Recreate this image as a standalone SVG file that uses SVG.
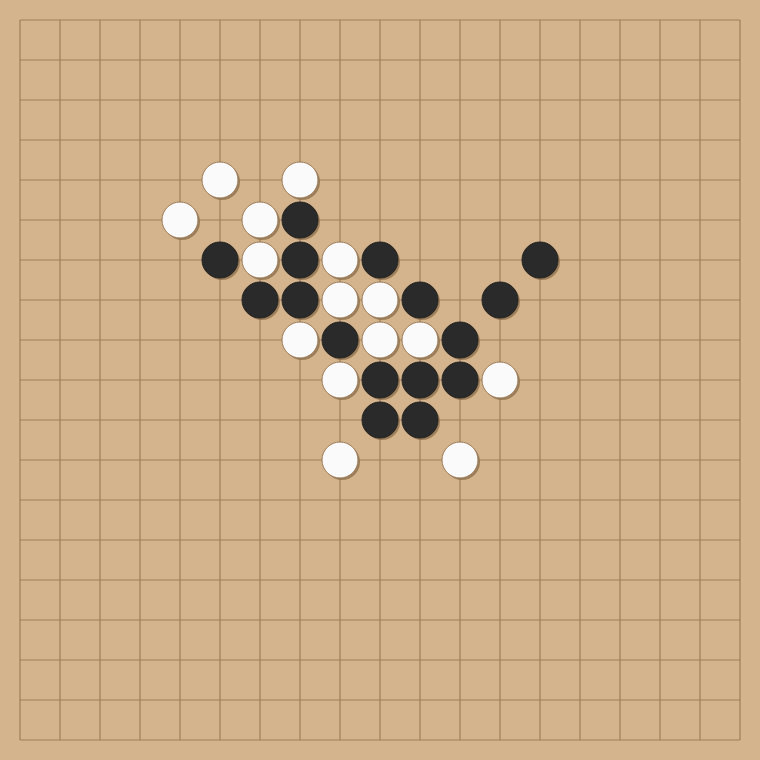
<svg xmlns="http://www.w3.org/2000/svg" width="760" height="760" viewBox="0 0 760 760">
<defs>
<style>
.g{stroke:#9c7f5c;stroke-width:1.2;fill:none}
.sh{fill:#8a6c48;opacity:0.75}
.w{fill:#fafafa;stroke:#9a7a56;stroke-width:1}
.b{fill:#2a2a2a;stroke:#222;stroke-width:1}
</style>
<g id="stone-w"><circle class="sh" cx="2" cy="2" r="18"/><circle class="w" cx="0" cy="0" r="18"/></g>
<g id="stone-b"><circle class="sh" cx="2" cy="2" r="18"/><circle class="b" cx="0" cy="0" r="18"/></g>
</defs>
<rect width="760" height="760" fill="#d4b48c"/>
<g id="grid">
<path class="g" d="M20 20V740M60 20V740M100 20V740M140 20V740M180 20V740M220 20V740M260 20V740M300 20V740M340 20V740M380 20V740M420 20V740M460 20V740M500 20V740M540 20V740M580 20V740M620 20V740M660 20V740M700 20V740M740 20V740"/>
<path class="g" d="M20 20H740M20 60H740M20 100H740M20 140H740M20 180H740M20 220H740M20 260H740M20 300H740M20 340H740M20 380H740M20 420H740M20 460H740M20 500H740M20 540H740M20 580H740M20 620H740M20 660H740M20 700H740M20 740H740"/>
</g>
<g id="white-stones">
<use href="#stone-w" x="220" y="180"/>
<use href="#stone-w" x="300" y="180"/>
<use href="#stone-w" x="180" y="220"/>
<use href="#stone-w" x="260" y="220"/>
<use href="#stone-w" x="260" y="260"/>
<use href="#stone-w" x="340" y="260"/>
<use href="#stone-w" x="340" y="300"/>
<use href="#stone-w" x="380" y="300"/>
<use href="#stone-w" x="300" y="340"/>
<use href="#stone-w" x="380" y="340"/>
<use href="#stone-w" x="420" y="340"/>
<use href="#stone-w" x="340" y="380"/>
<use href="#stone-w" x="500" y="380"/>
<use href="#stone-w" x="340" y="460"/>
<use href="#stone-w" x="460" y="460"/>
</g>
<g id="black-stones">
<use href="#stone-b" x="300" y="220"/>
<use href="#stone-b" x="220" y="260"/>
<use href="#stone-b" x="300" y="260"/>
<use href="#stone-b" x="380" y="260"/>
<use href="#stone-b" x="540" y="260"/>
<use href="#stone-b" x="260" y="300"/>
<use href="#stone-b" x="300" y="300"/>
<use href="#stone-b" x="420" y="300"/>
<use href="#stone-b" x="500" y="300"/>
<use href="#stone-b" x="340" y="340"/>
<use href="#stone-b" x="460" y="340"/>
<use href="#stone-b" x="380" y="380"/>
<use href="#stone-b" x="420" y="380"/>
<use href="#stone-b" x="460" y="380"/>
<use href="#stone-b" x="380" y="420"/>
<use href="#stone-b" x="420" y="420"/>
</g>
</svg>
